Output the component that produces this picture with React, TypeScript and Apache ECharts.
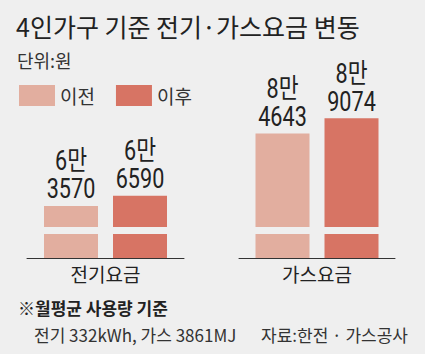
import React, { useEffect, useRef } from "react";
import * as echarts from "echarts";

const categoriesElec = ["전기요금"];
const categoriesGas = ["가스요금"];
const seriesNames = ["이전", "이후"];
const elecValues = [63570, 66590];
const gasValues = [84643, 89074];
const colors = ["#e2ae9f", "#d77464"];
const BG = "#efefef";
const KR = "'Noto Sans CJK KR', 'Noto Sans', sans-serif";
const NUM = "Roboto, 'Noto Sans CJK KR', sans-serif";
const BAR_W = 54;
const BAR_GAP = 15;

const fmt = (v: number) => `${Math.floor(v / 10000)}만\n${v % 10000}`;

export default function App() {
  const ref = useRef<HTMLDivElement>(null);
  useEffect(() => {
    if (!ref.current) return;
    const chart = echarts.init(ref.current, undefined, { renderer: "svg" });
    const yAxisBase = {
      type: "value" as const,
      min: 48500,
      max: 106000,
      show: false,
    };
    const xAxisBase = {
      type: "category" as const,
      axisLine: { lineStyle: { color: "#333", width: 1 } },
      axisTick: { show: false },
      axisLabel: { fontSize: 19, color: "#222", fontFamily: KR, margin: 6 },
    };
    const breakLine = {
      silent: true,
      symbol: "none",
      label: { show: false },
      lineStyle: { type: "solid" as const, width: 7, color: BG },
      data: [{ yAxis: 56500 }],
    };
    const mk = (name: string, idx: number, value: number, c: number, withBreak: boolean) => ({
      name,
      type: "bar" as const,
      xAxisIndex: idx,
      yAxisIndex: idx,
      data: [value],
      barWidth: BAR_W,
      barGap: `${(BAR_GAP / BAR_W) * 100}%`,
      itemStyle: { color: colors[c] },
      markLine: withBreak ? breakLine : undefined,
    });
    const labelSeries = (idx: number, values: number[]) => ({
      type: "custom" as const,
      xAxisIndex: idx,
      yAxisIndex: idx,
      silent: true,
      z: 10,
      encode: { x: 0, y: 1 },
      data: values.map((v, i) => [0, v, i]),
      renderItem: (_params: any, api: any) => {
        const pt = api.coord([api.value(0), api.value(1)]);
        const off = (api.value(2) - 0.5) * (BAR_W + BAR_GAP);
        return {
          type: "text",
          x: pt[0] + off,
          y: pt[1] - 3,
          scaleX: 0.8,
          style: {
            text: fmt(api.value(1)),
            fontFamily: NUM,
            fontSize: 27,
            fontWeight: "normal",
            lineHeight: 28,
            fill: "#222",
            align: "center",
            verticalAlign: "bottom",
          },
        };
      },
    });
    chart.setOption({
      animation: false,
      backgroundColor: BG,
      title: [
        {
          text: "4인가구 기준 전기·가스요금 변동",
          left: 11,
          top: 8,
          textStyle: { fontSize: 25, fontWeight: "normal", fontFamily: KR, color: "#222" },
        },
        {
          text: "단위:원",
          left: 12,
          top: 46,
          textStyle: { fontSize: 18, fontWeight: "normal", fontFamily: KR, color: "#333" },
        },
        {
          text: "※월평균 사용량 기준",
          left: 13,
          top: 294,
          textStyle: { fontSize: 17, fontWeight: "bold", fontFamily: KR, color: "#222" },
        },
        {
          text: "전기 332kWh, 가스 3861MJ",
          left: 29,
          top: 321,
          textStyle: { fontSize: 17, fontWeight: "normal", fontFamily: KR, color: "#333" },
        },
        {
          text: "자료:한전 · 가스공사",
          right: 12,
          top: 321,
          textStyle: { fontSize: 17, fontWeight: "normal", fontFamily: KR, color: "#333" },
        },
      ],
      legend: {
        data: seriesNames,
        left: 14,
        top: 80,
        itemWidth: 36,
        itemHeight: 21,
        itemGap: 21,
        icon: "rect",
        textStyle: { fontSize: 19, color: "#333", fontFamily: KR },
      },
      grid: [
        { left: 27, width: 157, top: 60, bottom: 96 },
        { left: 239, width: 156, top: 60, bottom: 96 },
      ],
      xAxis: [
        { ...xAxisBase, gridIndex: 0, data: categoriesElec },
        { ...xAxisBase, gridIndex: 1, data: categoriesGas },
      ],
      yAxis: [
        { ...yAxisBase, gridIndex: 0 },
        { ...yAxisBase, gridIndex: 1 },
      ],
      series: [
        mk(seriesNames[0], 0, elecValues[0], 0, false),
        mk(seriesNames[1], 0, elecValues[1], 1, true),
        mk(seriesNames[0], 1, gasValues[0], 0, false),
        mk(seriesNames[1], 1, gasValues[1], 1, true),
        labelSeries(0, elecValues),
        labelSeries(1, gasValues),
      ],
    });
    return () => chart.dispose();
  }, []);
  return (
    <div
      ref={ref}
      style={{ position: "fixed", left: 0, top: 0, width: 425, height: 354, background: BG }}
    />
  );
}
